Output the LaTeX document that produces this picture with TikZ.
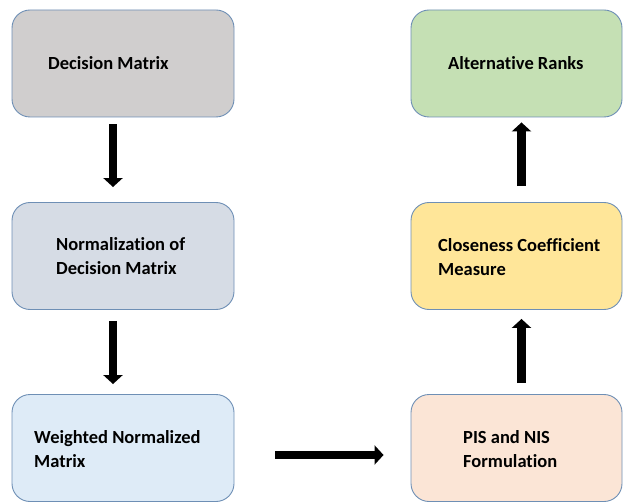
\documentclass[tikz,border=0pt]{standalone}
\usepackage{fontspec}
\setmainfont{Carlito}[Ligatures={NoCommon}]
\usetikzlibrary{arrows.meta}
\definecolor{bordc}{HTML}{6E8FB5}
\definecolor{fgray}{HTML}{D0CECE}
\definecolor{fsteel}{HTML}{D6DCE5}
\definecolor{fblue}{HTML}{DEEBF7}
\definecolor{fgreen}{HTML}{C5E0B4}
\definecolor{fyellow}{HTML}{FFE699}
\definecolor{fpeach}{HTML}{FBE5D6}
\tikzset{
  box/.style={draw=bordc, line width=0.9pt, rounded corners=18pt, minimum width=222pt, minimum height=107pt, inner sep=0pt},
  rbox/.style={box, minimum width=211pt},
  lbl/.style={anchor=west, align=left, inner sep=0pt, font=\fontsize{18.5}{23.5}\selectfont\bfseries},
  bigarrow/.style={line width=8.5pt, -{Triangle[width=19pt,length=9pt]}},
}
\begin{document}
\begin{tikzpicture}[x=1pt,y=-1pt]
\useasboundingbox (0,0) rectangle (623,502);
\node[box, fill=fgray]   (b1) at (123,63.5) {};
\node[box, fill=fsteel]  (b2) at (123,256) {};
\node[box, fill=fblue]   (b3) at (123,448) {};
\node[rbox, fill=fpeach]  (b4) at (516.5,448) {};
\node[rbox, fill=fyellow] (b5) at (516.5,256) {};
\node[rbox, fill=fgreen]  (b6) at (516.5,63.5) {};
\node[lbl] (t1) at (48,63) {Decision Matrix};
\node[lbl] (t2) at (56,256) {Normalization of\\Decision Matrix};
\node[lbl] (t3) at (34,449) {Weighted Normalized\\Matrix};
\node[lbl] (t4) at (463,449) {PIS and NIS\\Formulation};
\node[lbl] (t5) at (438,257) {Closeness Coefficient\\Measure};
\node[lbl] (t6) at (448,63) {Alternative Ranks};
\draw[bigarrow] ([xshift=-10pt,yshift=-7pt]b1.south) -- ([xshift=-10pt,yshift=15pt]b2.north);
\draw[bigarrow] ([xshift=-10pt,yshift=-11pt]b2.south) -- ([xshift=-10pt,yshift=10pt]b3.north);
\draw[bigarrow] ([xshift=41pt,yshift=-7pt]b3.east) -- ([xshift=-27pt,yshift=-7pt]b4.west);
\draw[bigarrow] ([xshift=5pt,yshift=11pt]b4.north) -- ([xshift=5pt,yshift=-9pt]b5.south);
\draw[bigarrow] ([xshift=5pt,yshift=16pt]b5.north) -- ([xshift=5pt,yshift=-5pt]b6.south);
\end{tikzpicture}
\end{document}
